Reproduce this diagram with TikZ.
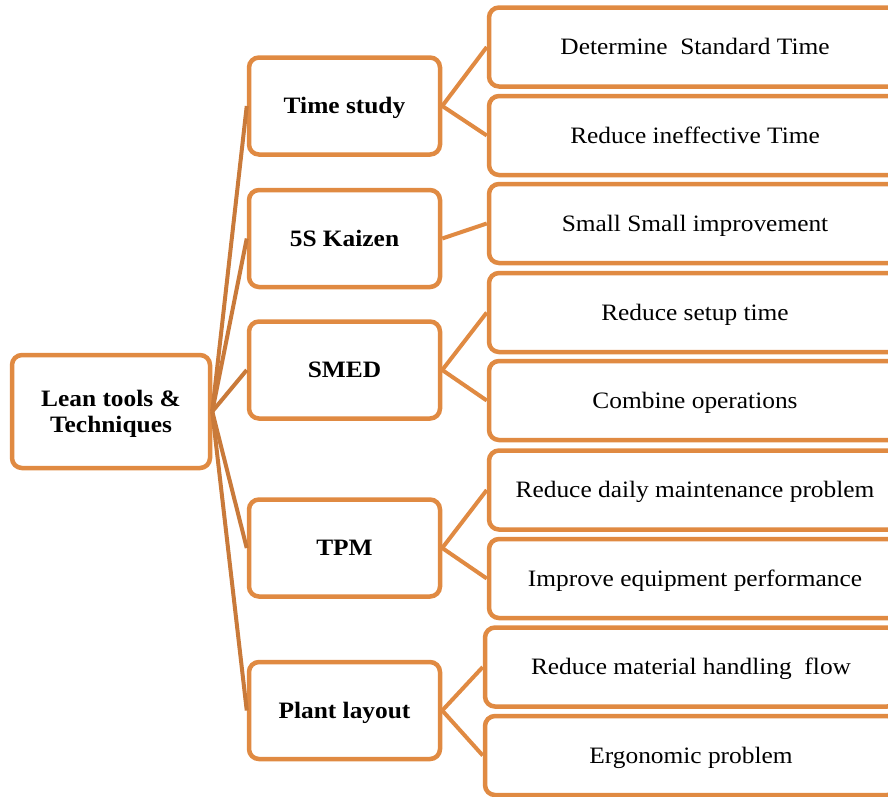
\documentclass[tikz,border=0pt]{standalone}
\usepackage{fontspec}
\setmainfont{Liberation Serif}[FakeStretch=1.08]
\definecolor{boxorange}{HTML}{E08A42}
\definecolor{linkbrown}{HTML}{C97A3A}
\begin{document}
\begin{tikzpicture}[x=1pt,y=-1pt,
  box/.style={draw=boxorange, line width=4.5pt, rounded corners=10pt, fill=white, align=center, inner sep=0pt, text height=18pt, text depth=3pt},
  mainbox/.style={box, minimum width=198pt, minimum height=113pt, text height=44pt, font=\fontsize{23.5}{26}\selectfont\bfseries},
  toolbox/.style={box, minimum width=191pt, minimum height=97pt, font=\fontsize{23.5}{26}\selectfont\bfseries},
  leafbox/.style={box, minimum width=412pt, minimum height=79pt, font=\fontsize{23.5}{26}\selectfont},
  trunk/.style={draw=linkbrown, line width=4pt},
  twig/.style={draw=boxorange, line width=4pt}]
\useasboundingbox (0,0) rectangle (888,796);
\clip (0,0) rectangle (888,796);

\node[mainbox] (lean) at (111,411.5) {Lean tools \&\\Techniques};

\node[toolbox] (time) at (344.5,106) {Time study};
\node[toolbox] (kaizen) at (344.5,238.5) {5S Kaizen};
\node[toolbox] (smed) at (344.5,370) {SMED};
\node[toolbox] (tpm) at (344.5,548) {TPM};
\node[toolbox] (plant) at (344.5,710.5) {Plant layout};

\node[leafbox] (l1) at (695,47) {Determine\ \ Standard Time};
\node[leafbox] (l2) at (695,135.5) {Reduce ineffective Time};
\node[leafbox] (l3) at (695,223.5) {Small Small improvement};
\node[leafbox] (l4) at (695,312.5) {Reduce setup time};
\node[leafbox] (l5) at (695,400.5) {Combine operations};
\node[leafbox] (l6) at (695,490) {Reduce daily maintenance problem};
\node[leafbox] (l7) at (695,578.5) {Improve equipment performance};
\node[leafbox] (l8) at (691,667) {Reduce material handling\ \ flow};
\node[leafbox] (l9) at (691,755.5) {Ergonomic problem};

\foreach \t in {time,kaizen,smed,tpm,plant}
  \draw[trunk] (lean.east) -- (\t.west);

\draw[twig] (time.east) -- (l1.west);
\draw[twig] (time.east) -- (l2.west);
\draw[twig] (kaizen.east) -- (l3.west);
\draw[twig] (smed.east) -- (l4.west);
\draw[twig] (smed.east) -- (l5.west);
\draw[twig] (tpm.east) -- (l6.west);
\draw[twig] (tpm.east) -- (l7.west);
\draw[twig] (plant.east) -- (l8.west);
\draw[twig] (plant.east) -- (l9.west);
\end{tikzpicture}
\end{document}
